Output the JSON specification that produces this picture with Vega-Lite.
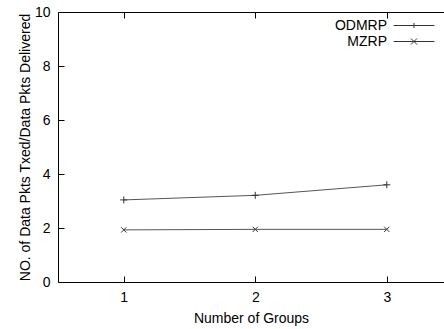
{
  "$schema": "https://vega.github.io/schema/vega-lite/v6.json",
  "width": 386,
  "height": 270,
  "autosize": {"type": "none"},
  "padding": {"left": 58, "top": 12, "right": 0, "bottom": 47},
  "background": "white",
  "config": {
    "view": {"stroke": null},
    "font": "Liberation Sans",
    "axis": {
      "grid": false,
      "domainColor": "black",
      "domainWidth": 1,
      "tickColor": "black",
      "tickWidth": 1,
      "tickSize": -6,
      "labelFont": "Liberation Sans",
      "labelFontSize": 14,
      "labelColor": "black",
      "titleFont": "Liberation Sans",
      "titleFontSize": 14,
      "titleFontWeight": "normal",
      "titleColor": "black"
    },
    "legend": {
      "labelFont": "Liberation Sans",
      "labelFontSize": 14,
      "labelColor": "black"
    }
  },
  "data": {
    "values": [
      {"groups": 1, "value": 3.04, "series": "ODMRP"},
      {"groups": 2, "value": 3.21, "series": "ODMRP"},
      {"groups": 3, "value": 3.6, "series": "ODMRP"},
      {"groups": 1, "value": 1.93, "series": "MZRP"},
      {"groups": 2, "value": 1.95, "series": "MZRP"},
      {"groups": 3, "value": 1.95, "series": "MZRP"}
    ]
  },
  "layer": [
    {
      "mark": {"type": "line", "strokeWidth": 1, "color": "#555555"},
      "encoding": {
        "x": {
          "field": "groups",
          "type": "quantitative",
          "scale": {"domain": [0.5, 3.435], "nice": false, "zero": false},
          "axis": {
            "orient": "bottom",
            "values": [1, 2, 3],
            "format": "d",
            "title": "Number of Groups",
            "labelPadding": 14,
            "titlePadding": 7
          }
        },
        "y": {
          "field": "value",
          "type": "quantitative",
          "scale": {"domain": [0, 10], "nice": false},
          "axis": {
            "orient": "left",
            "values": [0, 2, 4, 6, 8, 10],
            "title": "NO. of Data Pkts Txed/Data Pkts Delivered",
            "labelPadding": 14,
            "titlePadding": 2
          }
        },
        "detail": {"field": "series"}
      }
    },
    {
      "mark": {"type": "point", "filled": false, "size": 49, "strokeWidth": 1, "color": "#333333", "opacity": 1},
      "encoding": {
        "x": {"field": "groups", "type": "quantitative", "axis": null},
        "y": {"field": "value", "type": "quantitative", "axis": null},
        "shape": {
          "field": "series",
          "type": "nominal",
          "scale": {
            "domain": ["ODMRP", "MZRP"],
            "range": ["M-1,0H1M0,-1V1", "M-0.75,-0.75L0.75,0.75M-0.75,0.75L0.75,-0.75"]
          },
          "legend": null
        }
      }
    },
    {
      "mark": {"type": "point", "filled": false, "size": 0, "strokeWidth": 1, "color": "#333333", "opacity": 1},
      "encoding": {
        "x": {
          "field": "groups",
          "type": "quantitative",
          "axis": {"orient": "top", "values": [1, 2, 3], "labels": false, "title": null}
        },
        "y": {"field": "value", "type": "quantitative", "axis": null},
        "shape": {
          "field": "series",
          "type": "nominal",
          "scale": {
            "domain": ["ODMRP", "MZRP"],
            "range": ["M-2.55,0H2.55M0,-0.32V0.32", "M-2.55,0H2.55M-0.38,-0.38L0.38,0.38M-0.38,0.38L0.38,-0.38"]
          },
          "legend": {
            "orient": "none",
            "legendX": 347.5,
            "legendY": 5,
            "title": null,
            "padding": 0,
            "symbolSize": 256,
            "symbolStrokeWidth": 1,
            "labelAlign": "right",
            "labelOffset": -35.5,
            "rowPadding": -1
          }
        }
      }
    }
  ],
  "resolve": {"scale": {"shape": "independent"}, "axis": {"x": "independent", "y": "independent"}}
}
